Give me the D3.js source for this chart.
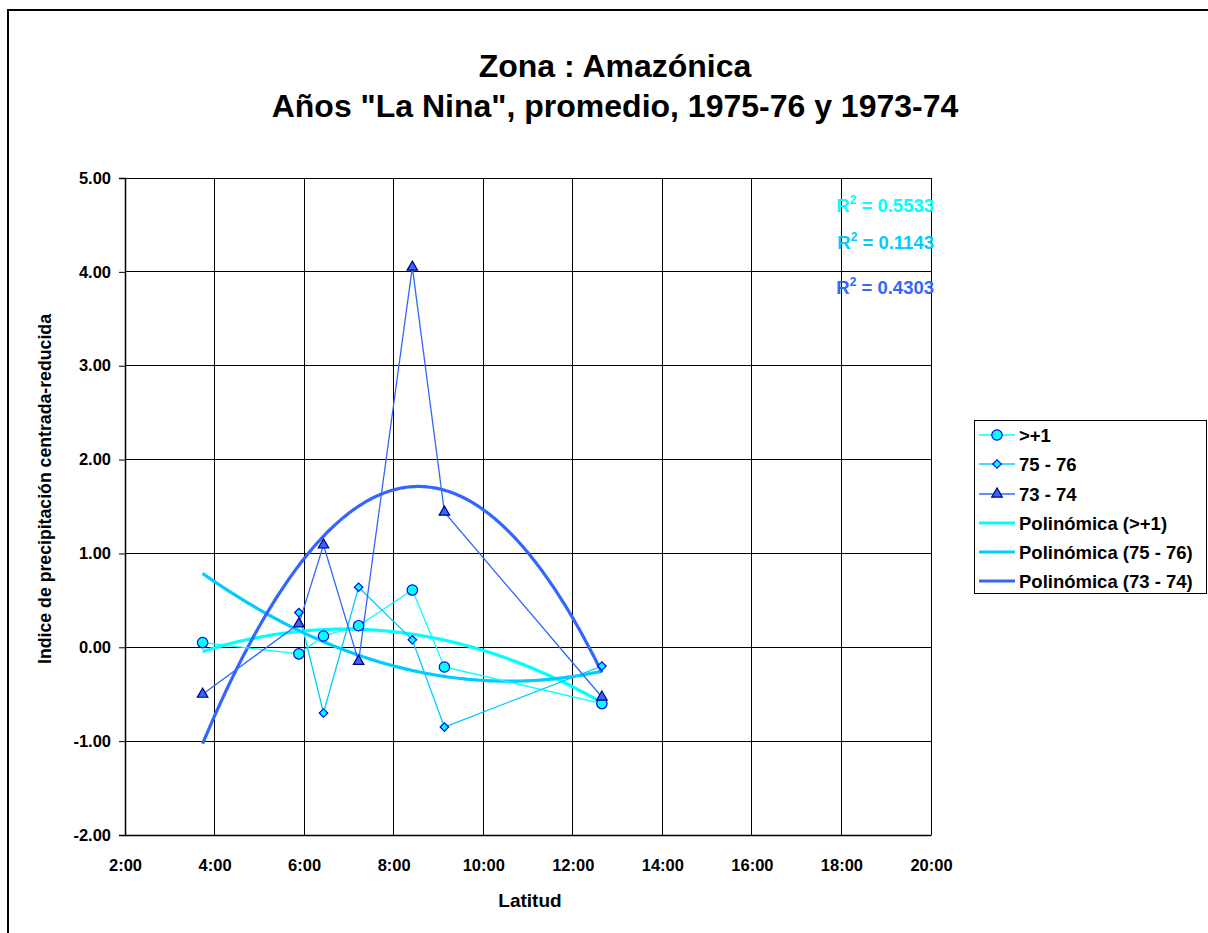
<!DOCTYPE html>
<html><head><meta charset="utf-8">
<script src="https://cdn.jsdelivr.net/npm/d3@7"></script>
<style>body{margin:0;background:#fff}svg text{font-family:"Liberation Sans",Arial,sans-serif;font-weight:bold}</style>
</head><body><svg id="c" width="1208" height="933"></svg>
<script>
// ---- data ----
const latitudes = [3.733, 5.883, 6.433, 7.217, 8.417, 9.133, 12.65]; // hours (h:mm axis)
const seriesNames = [">+1", "75 - 76", "73 - 74"];
const valsGt1 = [0.05, -0.07, 0.12, 0.23, 0.61, -0.21, -0.60];
const vals7576 = [null, 0.37, -0.70, 0.64, 0.08, -0.85, -0.20];
const vals7374 = [-0.50, 0.25, 1.09, -0.15, 4.05, 1.44, -0.53];
const trendNames = ["Polinómica (>+1)", "Polinómica (75 - 76)", "Polinómica (73 - 74)"];
const r2Labels = ["0.5533", "0.1143", "0.4303"];
const xTicks = [2, 4, 6, 8, 10, 12, 14, 16, 18, 20];
const yTicks = [-2, -1, 0, 1, 2, 3, 4, 5];
const titleLines = ["Zona : Amazónica", "Años \"La Nina\", promedio, 1975-76 y 1973-74"];
const xTitle = "Latitud";
const yTitle = "Indice de precipitación centrada-reducida";

const colors = ["#00FFFF", "#00CCFF", "#3366FF"];
const markerFill = ["#00FFFF", "#00FFFF", "#3366FF"];
const markerStroke = ["#0000FF", "#0000FF", "#000080"];

function marker(sel, i) {
  if (i === 0) sel.append("circle").attr("r", 5.2);
  else if (i === 1) sel.append("rect").attr("x", -3).attr("y", -3).attr("width", 6).attr("height", 6).attr("transform", "rotate(45)");
  else sel.append("path").attr("d", d3.symbol().type(d3.symbolTriangle).size(48)());
  sel.selectAll("*").attr("fill", markerFill[i]).attr("stroke", markerStroke[i]).attr("stroke-width", 1.2);
}

const svg = d3.select("#c");
const L = 125, R = 931, T = 178, B = 835;
const x = d3.scaleLinear().domain([2, 20]).range([L, R]);
const y = d3.scaleLinear().domain([-2, 5]).range([B, T]);

// outer frame
svg.append("rect").attr("x", 8).attr("y", 10).attr("width", 1300).attr("height", 1100)
  .attr("fill", "none").attr("stroke", "#000").attr("stroke-width", 2);

// title
const tt = svg.append("text").attr("text-anchor", "middle").attr("font-size", 32);
tt.append("tspan").attr("x", 615).attr("y", 77).text(titleLines[0]);
tt.append("tspan").attr("x", 615).attr("y", 117).text(titleLines[1]);

// grid
const g = svg.append("g");
g.selectAll(".vg").data(xTicks).join("line").attr("x1", d => x(d)).attr("x2", d => x(d))
  .attr("y1", T).attr("y2", B).attr("stroke", "#000").attr("stroke-width", 1).attr("shape-rendering", "crispEdges");
g.selectAll(".hg").data(yTicks).join("line").attr("y1", d => y(d)).attr("y2", d => y(d))
  .attr("x1", L).attr("x2", R).attr("stroke", "#000").attr("stroke-width", 1).attr("shape-rendering", "crispEdges");

// axes
const fmtY = d => d.toFixed(2);
const yAxis = d3.axisLeft(y).tickValues(yTicks).tickFormat(fmtY).tickSize(6).tickPadding(8);
const ya = svg.append("g").attr("transform", `translate(${L},0)`).call(yAxis);
ya.select(".domain").attr("stroke-width", 1.5);
ya.selectAll("text").attr("font-size", 16.5).attr("fill", "#000").attr("font-family", "Liberation Sans").attr("font-weight", "bold");
const fmtX = d => d + ":00";
const xAxis = d3.axisBottom(x).tickValues(xTicks).tickFormat(fmtX).tickSize(0).tickPadding(24);
const xa = svg.append("g").attr("transform", `translate(0,${B})`).call(xAxis);
xa.select(".domain").attr("stroke-width", 1.5);
xa.selectAll("text").attr("font-size", 16.5).attr("fill", "#000").attr("font-family", "Liberation Sans").attr("font-weight", "bold");

svg.append("text").attr("x", 530).attr("y", 907).attr("text-anchor", "middle").attr("font-size", 19).text(xTitle);
svg.append("text").attr("transform", "translate(51,489) rotate(-90)").attr("text-anchor", "middle").attr("font-size", 17.7).text(yTitle);

// polynomial least-squares fit (order 2, Excel "Polinómica")
function polyfit(xs, ys, order) {
  const pts = xs.map((v, i) => [v, ys[i]]).filter(p => p[1] != null);
  const n = order + 1;
  const A = Array.from({length: n}, () => new Array(n + 1).fill(0));
  pts.forEach(([px, py]) => {
    for (let r = 0; r < n; r++) {
      for (let c = 0; c < n; c++) A[r][c] += Math.pow(px, r + c);
      A[r][n] += py * Math.pow(px, r);
    }
  });
  for (let i = 0; i < n; i++) {
    let m = i; for (let k = i + 1; k < n; k++) if (Math.abs(A[k][i]) > Math.abs(A[m][i])) m = k;
    [A[i], A[m]] = [A[m], A[i]];
    for (let k = 0; k < n; k++) if (k !== i) {
      const f = A[k][i] / A[i][i];
      for (let c = i; c <= n; c++) A[k][c] -= f * A[i][c];
    }
  }
  const coef = A.map((row, i) => row[n] / row[i]);
  return v => coef.reduce((s, c, i) => s + c * Math.pow(v, i), 0);
}

const allVals = [valsGt1, vals7576, vals7374];
const xMin = d3.min(latitudes), xMax = d3.max(latitudes);
const trendLine = d3.line().x(d => x(d[0])).y(d => y(d[1]));
allVals.forEach((vals, i) => {
  const f = polyfit(latitudes, vals, 2);
  const pts = d3.range(0, 201).map(k => { const v = xMin + (xMax - xMin) * k / 200; return [v, f(v)]; });
  svg.append("path").attr("d", trendLine(pts)).attr("fill", "none").attr("stroke", colors[i]).attr("stroke-width", 3.2);
});

// data lines + markers
const dataLine = d3.line().x(d => x(d[0])).y(d => y(d[1]));
allVals.forEach((vals, i) => {
  const pts = latitudes.map((v, k) => [v, vals[k]]).filter(p => p[1] != null);
  svg.append("path").attr("d", dataLine(pts)).attr("fill", "none")
    .attr("stroke", colors[i]).attr("stroke-width", 1.3);
});
allVals.forEach((vals, i) => {
  const pts = latitudes.map((v, k) => [v, vals[k]]).filter(p => p[1] != null);
  pts.forEach(d => marker(svg.append("g").attr("transform", `translate(${x(d[0])},${y(d[1])})`), i));
});

// R² labels
const r2y = [212, 249, 294];
r2Labels.forEach((lab, i) => {
  const t = svg.append("text").attr("x", 934).attr("y", r2y[i]).attr("text-anchor", "end")
    .attr("font-size", 18.5).attr("fill", colors[i]);
  t.append("tspan").text("R");
  t.append("tspan").attr("dy", -8).attr("font-size", 12).text("2");
  t.append("tspan").attr("dy", 8).text(" = " + lab);
});

// legend
const lg = svg.append("g");
lg.append("rect").attr("x", 974.5).attr("y", 420.5).attr("width", 232).attr("height", 173)
  .attr("fill", "#fff").attr("stroke", "#000").attr("stroke-width", 1);
const legY = [435, 464, 494, 523, 552, 581];
const legNames = seriesNames.concat(trendNames);
legNames.forEach((nm, k) => {
  const i = k % 3, isTrend = k >= 3;
  lg.append("line").attr("x1", 979).attr("x2", 1015).attr("y1", legY[k]).attr("y2", legY[k])
    .attr("stroke", colors[i]).attr("stroke-width", isTrend ? 3 : 1.3);
  if (!isTrend) marker(lg.append("g").attr("transform", `translate(997,${legY[k]})`), i);
  lg.append("text").attr("x", 1019).attr("y", legY[k] + 6.5).attr("font-size", 18.5).text(nm);
});
</script></body></html>
